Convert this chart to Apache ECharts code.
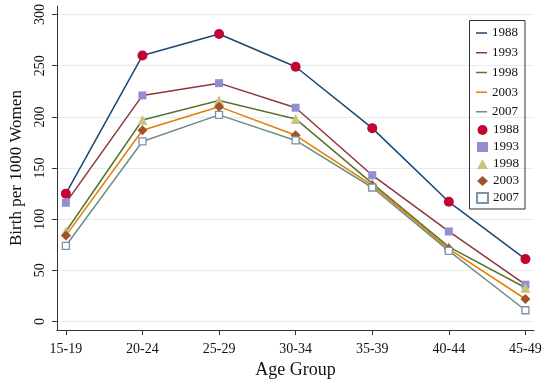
<!DOCTYPE html>
<html>
<head>
<meta charset="utf-8">
<script src="https://cdn.jsdelivr.net/npm/echarts@6/dist/echarts.min.js"></script>
<style>
html,body{margin:0;padding:0;background:#fff;}
#chart{width:550px;height:384px;}
</style>
</head>
<body>
<div id="chart"></div>
<script>
const categories = ['15-19','20-24','25-29','30-34','35-39','40-44','45-49'];
const years = ['1988','1993','1998','2003','2007'];
const y1988 = [125, 260, 281, 249, 189, 117, 61];
const y1993 = [116, 221, 233, 209, 143, 88, 36];
const y1998 = [88, 197, 216, 198, 135, 73, 33];
const y2003 = [84, 187, 210, 182, 133, 71, 22];
const y2007 = [74, 176, 202, 177, 131, 69, 11];
const yTicks = [0, 50, 100, 150, 200, 250, 300];

const seriesValues = [y1988, y1993, y1998, y2003, y2007];
const lineColors = ['#1a476f', '#90353b', '#55752f', '#e37e00', '#6e8e84'];
const markColors = ['#c10534', '#938dd2', '#cac27e', '#a0522d', '#7b92a8'];
const markSymbols = ['circle', 'rect', 'triangle', 'diamond', 'rect'];
const markSizes = [10, 8, 10, 10, 7];

const FONT = '"Liberation Serif", serif';
const xIdx = categories.map((c, i) => i);
const lineIcon = 'path://M0,0 L11,0 L11,0.01 L0,0.01 Z M0,4.3 L11,4.3 L11,5.8 L0,5.8 Z M0,9.99 L11,9.99 L11,10 L0,10 Z';

const series = [];
years.forEach((yr, k) => {
  series.push({
    name: yr,
    type: 'line',
    data: seriesValues[k].map((v, i) => [i, v]),
    symbol: 'none',
    lineStyle: { color: lineColors[k], width: 1.5 },
    itemStyle: { color: lineColors[k] },
    z: 2,
    silent: true
  });
});
years.forEach((yr, k) => {
  const hollow = k === 4;
  series.push({
    name: yr + ' ',
    type: 'scatter',
    data: seriesValues[k].map((v, i) => [i, v]),
    symbol: markSymbols[k],
    symbolSize: markSizes[k],
    itemStyle: hollow
      ? { color: '#ffffff', borderColor: markColors[k], borderWidth: 1.3, opacity: 1 }
      : { color: markColors[k], opacity: 1 },
    z: 3,
    silent: true
  });
});

const chart = echarts.init(document.getElementById('chart'), null, { renderer: 'canvas' });
chart.setOption({
  animation: false,
  backgroundColor: '#ffffff',
  textStyle: { fontFamily: FONT },
  grid: { left: 53, right: 16, top: 6, bottom: 50, containLabel: false },
  xAxis: {
    type: 'value',
    min: -0.117,
    max: 6.112,
    name: 'Age Group',
    nameLocation: 'middle',
    nameGap: 29,
    nameTextStyle: { fontFamily: FONT, fontSize: 18, color: '#111' },
    axisLine: { show: true, onZero: false, lineStyle: { color: '#333', width: 1 } },
    axisTick: { show: true, length: 5, customValues: xIdx, lineStyle: { color: '#333' } },
    axisLabel: {
      customValues: xIdx,
      formatter: v => categories[Math.round(v)],
      fontFamily: FONT, fontSize: 14, color: '#111', margin: 12
    },
    splitLine: { show: false }
  },
  yAxis: {
    type: 'value',
    min: -8.4,
    max: 308.4,
    name: 'Birth per 1000 Women',
    nameLocation: 'middle',
    nameGap: 31,
    nameRotate: 90,
    nameTextStyle: { fontFamily: FONT, fontSize: 17, color: '#111' },
    axisLine: { show: true, onZero: false, lineStyle: { color: '#333', width: 1 } },
    axisTick: { show: true, length: 5, customValues: yTicks, lineStyle: { color: '#333' } },
    axisLabel: {
      customValues: yTicks,
      rotate: 90,
      fontFamily: FONT, fontSize: 14, color: '#111', margin: 10
    },
    splitLine: { show: true, lineStyle: { color: '#e3eef0', width: 1 } }
  },
  legend: [
    {
      orient: 'vertical',
      left: 471,
      top: 21.5,
      padding: 5,
      data: years.map(y => ({ name: y, icon: lineIcon })),
      itemWidth: 11,
      itemHeight: 10,
      itemGap: 6.7,
      itemTextGap: 9,
      textStyle: { fontFamily: FONT, fontSize: 13, color: '#111' },
      selectedMode: false
    },
    {
      orient: 'vertical',
      left: 471,
      top: 118.5,
      padding: 5,
      data: years.map(y => y + ' '),
      formatter: n => n.trim(),
      itemWidth: 11,
      itemHeight: 10,
      itemGap: 4,
      itemTextGap: 9,
      textStyle: { fontFamily: FONT, fontSize: 13, color: '#111' },
      selectedMode: false
    }
  ],
  graphic: [
    {
      type: 'rect',
      shape: { x: 469.5, y: 20.5, width: 55.5, height: 188.5 },
      style: { fill: 'none', stroke: '#333', lineWidth: 1 },
      z: 10,
      silent: true
    }
  ],
  series: series
});
</script>
</body>
</html>
